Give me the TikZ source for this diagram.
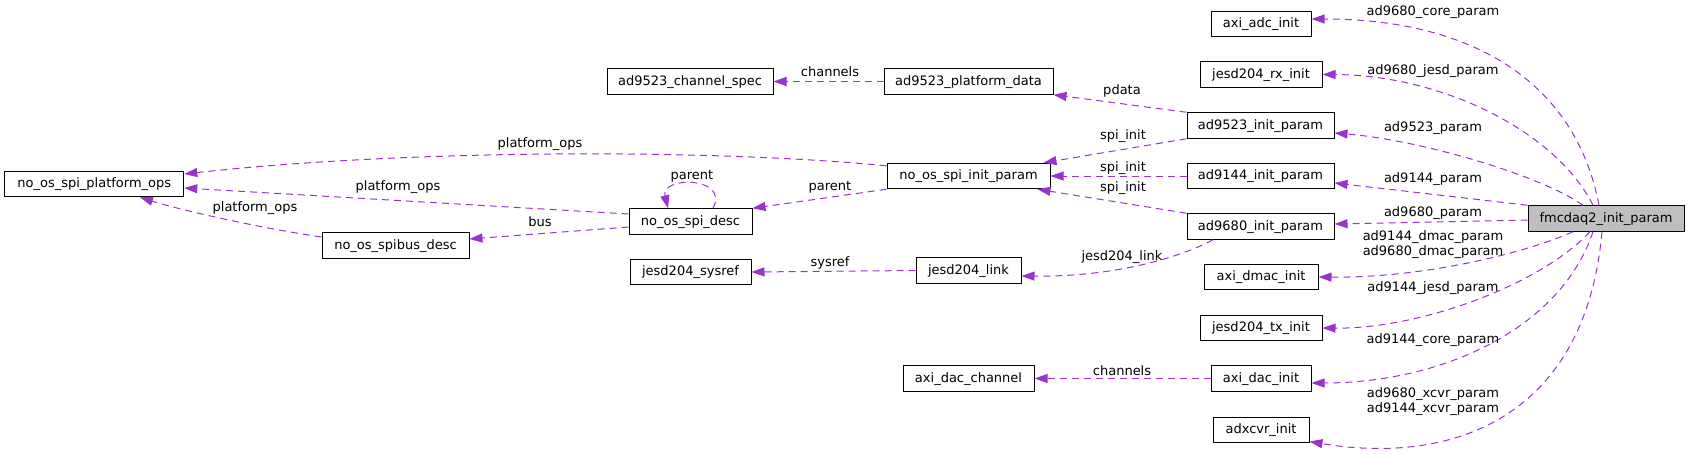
\documentclass[tikz,border=0pt]{standalone}
\usepackage{fontspec}
\setmainfont{DejaVu Sans}
\usetikzlibrary{arrows.meta,calc}
\definecolor{edgec}{RGB}{154,50,205}
\definecolor{fmcfill}{RGB}{191,191,191}
\begin{document}
\begin{tikzpicture}[x=1pt,y=-1pt,
  box/.style={draw=black, line width=1pt, rectangle, inner sep=0pt, minimum height=25.5pt,
    text height=9.5pt, text depth=2.5pt, font=\fontsize{13}{15}\selectfont},
  rel/.style={draw=edgec, line width=1pt, dash pattern=on 7pt off 5pt,
    -{Triangle[length=13pt,width=9pt]}},
  lbl/.style={font=\fontsize{13}{15}\selectfont, inner sep=0pt, align=center}]
\useasboundingbox (0,0) rectangle (1689,453);

% nodes
\node[box, minimum width=179pt] (pops) at (94.3,184) {no\_os\_spi\_platform\_ops};
\node[box, minimum width=147pt] (spibus) at (395.5,245.5) {no\_os\_spibus\_desc};
\node[box, minimum width=123pt] (spidesc) at (690.5,221.5) {no\_os\_spi\_desc};
\node[box, minimum width=166pt] (chspec) at (690,81.5) {ad9523\_channel\_spec};
\node[box, minimum width=121pt] (sysref) at (690.5,272) {jesd204\_sysref};
\node[box, minimum width=169pt] (pdata) at (968.5,81.5) {ad9523\_platform\_data};
\node[box, minimum width=163pt] (spiinit) at (968.5,176) {no\_os\_spi\_init\_param};
\node[box, minimum width=105pt] (link) at (968.5,270.5) {jesd204\_link};
\node[box, minimum width=131pt] (dacch) at (968.5,378.5) {axi\_dac\_channel};
\node[box, minimum width=100pt] (adc) at (1261,24) {axi\_adc\_init};
\node[box, minimum width=122pt] (rx) at (1261,74.5) {jesd204\_rx\_init};
\node[box, minimum width=147pt] (ad9523) at (1260.5,125.5) {ad9523\_init\_param};
\node[box, minimum width=147pt] (ad9144) at (1260.5,176) {ad9144\_init\_param};
\node[box, minimum width=147pt] (ad9680) at (1260.5,226.5) {ad9680\_init\_param};
\node[box, minimum width=114pt] (dmac) at (1261,277) {axi\_dmac\_init};
\node[box, minimum width=122pt] (tx) at (1261,328) {jesd204\_tx\_init};
\node[box, minimum width=100pt] (dac) at (1261,378.5) {axi\_dac\_init};
\node[box, minimum width=96pt] (xcvr) at (1261,430) {adxcvr\_init};
\node[box, minimum width=156pt, fill=fmcfill] (fmc) at (1606,218.5) {fmcdaq2\_init\_param};

% edges from fmcdaq2_init_param
\draw[rel] ([xshift=-7pt]fmc.north) .. controls (1575,80) and (1470,19) .. ([yshift=5pt]adc.east);
\draw[rel] ([xshift=-13pt]fmc.north) .. controls (1555,130) and (1440,75) .. (rx.east);
\draw[rel] ([xshift=-23pt]fmc.north) .. controls (1540,175) and (1420,140) .. ([yshift=-7.5pt]ad9523.east);
\draw[rel] (fmc.north west) -- ([yshift=-7pt]ad9144.east);
\draw[rel] ([yshift=-1.5pt]fmc.west) -- ([yshift=2.5pt]ad9680.east);
\draw[rel] ([xshift=-33pt]fmc.south) .. controls (1520,255) and (1420,278) .. (dmac.east);
\draw[rel] ([xshift=-16pt]fmc.south) .. controls (1540,285) and (1420,329) .. (tx.east);
\draw[rel] ([xshift=-13pt]fmc.south) .. controls (1560,330) and (1440,383) .. ([yshift=-4.5pt]dac.east);
\draw[rel] ([xshift=-4pt]fmc.south) .. controls (1585,420) and (1450,465) .. ([yshift=-11.5pt]xcvr.east);

% middle edges
\draw[rel] (ad9523.north west) -- (pdata.south east);
\draw[rel] (ad9523.south west) -- ([xshift=-7pt]spiinit.north east);
\draw[rel] (ad9144.west) -- (spiinit.east);
\draw[rel] (ad9680.north west) -- ([xshift=-13pt]spiinit.south east);
\draw[rel] ([xshift=-47.5pt]ad9680.south) .. controls (1185,255) and (1120,277) .. ([yshift=-5.5pt]link.east);
\draw[rel] (link.west) -- (sysref.east);
\draw[rel] (dac.west) -- (dacch.east);
\draw[rel] (pdata.west) -- (chspec.east);
\draw[rel] (spiinit.south west) -- (spidesc.north east);
\draw[rel] ([yshift=-3pt]spiinit.north west) .. controls (700,148) and (400,150) .. ([yshift=10pt]pops.east);
\draw[rel] ([yshift=7.5pt]spidesc.west) -- ([yshift=-4pt]pops.east);
\draw[rel] ([yshift=-5.5pt]spidesc.west) -- ([yshift=6.5pt]spibus.east);
\draw[rel] ([yshift=8.5pt]spibus.west) .. controls (260,228) and (180,210) .. ([xshift=45.7pt]pops.south);
\draw[rel] ([xshift=22.5pt]spidesc.north) .. controls (730,176) and (660,176) .. ([xshift=-22.5pt]spidesc.north);

% labels
\node[lbl] (l1) at (1433,12) {ad9680\_core\_param};
\node[lbl] (l2) at (1433,71) {ad9680\_jesd\_param};
\node[lbl] (l3) at (1433,128) {ad9523\_param};
\node[lbl] (l4) at (1433,179) {ad9144\_param};
\node[lbl] (l5) at (1433,213) {ad9680\_param};
\node[lbl] (l6) at (1433,244.5) {ad9144\_dmac\_param\\ad9680\_dmac\_param};
\node[lbl] (l7) at (1433,288) {ad9144\_jesd\_param};
\node[lbl] (l8) at (1433,340) {ad9144\_core\_param};
\node[lbl] (l9) at (1433,402) {ad9680\_xcvr\_param\\ad9144\_xcvr\_param};
\node[lbl] (l10) at (1122,91) {pdata};
\node[lbl] (l11) at (1123,136) {spi\_init};
\node[lbl] (l12) at (1123,168) {spi\_init};
\node[lbl] (l13) at (1123,188) {spi\_init};
\node[lbl] (l14) at (1122,257) {jesd204\_link};
\node[lbl] (l15) at (830,263) {sysref};
\node[lbl] (l16) at (1122,371) {channels};
\node[lbl] (l17) at (830,72) {channels};
\node[lbl] (l18) at (830,187) {parent};
\node[lbl] (l19) at (540,144) {platform\_ops};
\node[lbl] (l20) at (398,187) {platform\_ops};
\node[lbl] (l21) at (540,222) {bus};
\node[lbl] (l22) at (255,208) {platform\_ops};
\node[lbl] (l23) at (692,176) {parent};
\end{tikzpicture}
\end{document}
